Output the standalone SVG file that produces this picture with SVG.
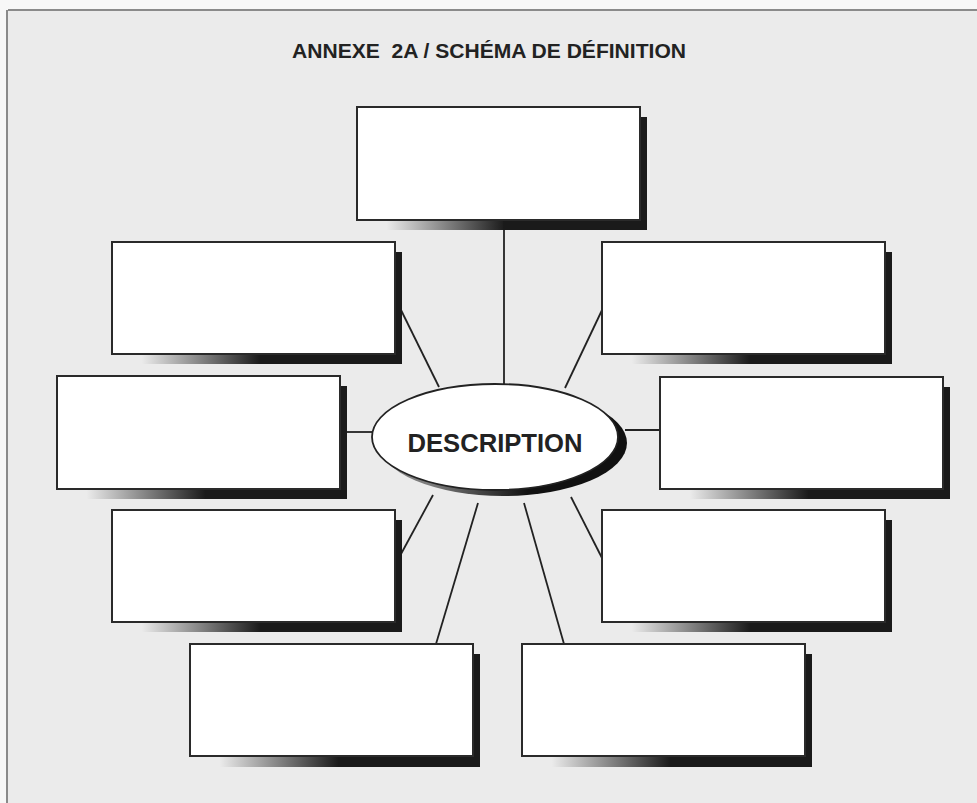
<svg xmlns="http://www.w3.org/2000/svg" width="977" height="803" viewBox="0 0 977 803">
<defs>
<linearGradient id="sh" x1="0" y1="0" x2="1" y2="0">
<stop offset="0.08" stop-color="#1a1a1a" stop-opacity="0"/>
<stop offset="0.5" stop-color="#1a1a1a" stop-opacity="1"/>
<stop offset="1" stop-color="#1a1a1a" stop-opacity="1"/>
</linearGradient>
<linearGradient id="esh" x1="0" y1="0" x2="1" y2="0">
<stop offset="0.2" stop-color="#111" stop-opacity="0.5"/>
<stop offset="0.6" stop-color="#111" stop-opacity="1"/>
</linearGradient>
</defs>
<style>
.bx{fill:#fff;stroke:#2a2a2a;stroke-width:2}
.sd{fill:url(#sh)}
.cn{stroke:#222;stroke-width:1.8;fill:none}
.t{font-family:"Liberation Sans",Arial,sans-serif;fill:#222}
</style>
<rect x="0" y="0" width="977" height="803" fill="#f7f7f7"/>
<rect x="8" y="11" width="975" height="800" fill="#ebebeb"/>
<line x1="8" y1="10" x2="977" y2="10" stroke="#8a8a8a" stroke-width="2"/>
<line x1="7" y1="10" x2="7" y2="803" stroke="#8a8a8a" stroke-width="2"/>
<text class="t" x="489" y="58" font-size="20" font-weight="bold" text-anchor="middle" xml:space="preserve" textLength="394" lengthAdjust="spacingAndGlyphs">ANNEXE  2A / SCHÉMA DE DÉFINITION</text>
<g id="connectors">
<line class="cn" x1="504" y1="221" x2="504" y2="384"/>
<line class="cn" x1="401" y1="310" x2="439" y2="387"/>
<line class="cn" x1="603" y1="308" x2="565" y2="388"/>
<line class="cn" x1="345" y1="432" x2="372" y2="432"/>
<line class="cn" x1="625" y1="430" x2="660" y2="430"/>
<line class="cn" x1="433" y1="495" x2="401" y2="554"/>
<line class="cn" x1="478" y1="503" x2="436" y2="644"/>
<line class="cn" x1="524" y1="503" x2="564" y2="644"/>
<line class="cn" x1="571" y1="497" x2="602" y2="558"/>
</g>
<g id="box-top"><rect class="sd" x="364" y="117" width="283" height="113"/><rect class="bx" x="357" y="107" width="283" height="113"/></g>
<g id="box-upper-left"><rect class="sd" x="119" y="252" width="283" height="112"/><rect class="bx" x="112" y="242" width="283" height="112"/></g>
<g id="box-upper-right"><rect class="sd" x="609" y="252" width="283" height="112"/><rect class="bx" x="602" y="242" width="283" height="112"/></g>
<g id="box-mid-left"><rect class="sd" x="64" y="386" width="283" height="113"/><rect class="bx" x="57" y="376" width="283" height="113"/></g>
<g id="box-mid-right"><rect class="sd" x="667" y="387" width="283" height="112"/><rect class="bx" x="660" y="377" width="283" height="112"/></g>
<g id="box-lower-left"><rect class="sd" x="119" y="520" width="283" height="112"/><rect class="bx" x="112" y="510" width="283" height="112"/></g>
<g id="box-lower-right"><rect class="sd" x="609" y="520" width="283" height="112"/><rect class="bx" x="602" y="510" width="283" height="112"/></g>
<g id="box-bottom-left"><rect class="sd" x="197" y="654" width="283" height="113"/><rect class="bx" x="190" y="644" width="283" height="112"/></g>
<g id="box-bottom-right"><rect class="sd" x="529" y="654" width="283" height="113"/><rect class="bx" x="522" y="644" width="283" height="112"/></g>
<g id="description">
<ellipse cx="503" cy="443" rx="124" ry="53" fill="url(#esh)"/>
<ellipse cx="495" cy="437" rx="123" ry="53" fill="#fff" stroke="#222" stroke-width="1.8"/>
<text class="t" x="495" y="452" font-size="26" font-weight="bold" text-anchor="middle" textLength="175" lengthAdjust="spacingAndGlyphs">DESCRIPTION</text>
</g>
</svg>
